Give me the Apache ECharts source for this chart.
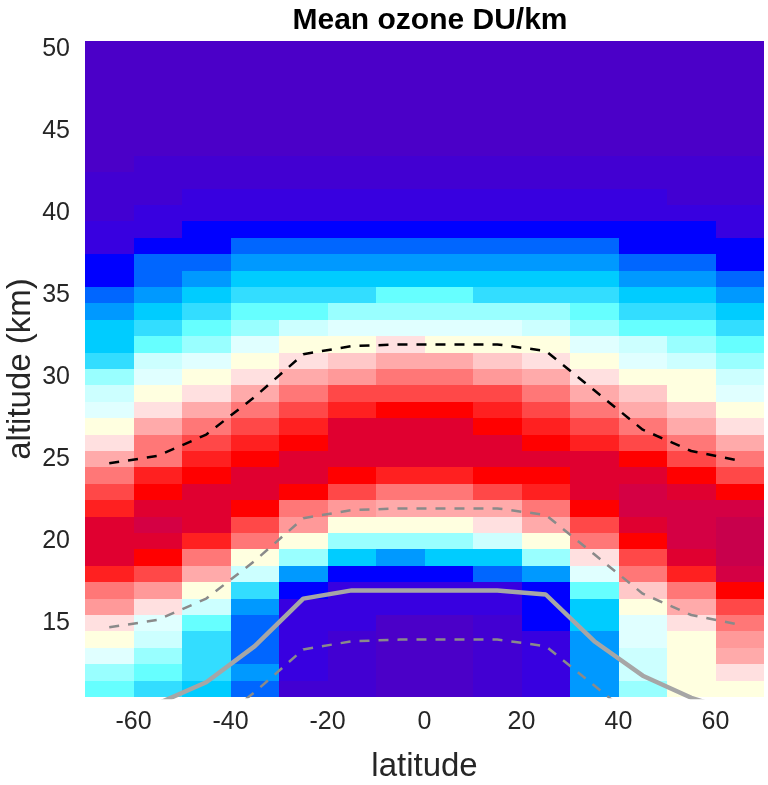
<!DOCTYPE html>
<html>
<head>
<meta charset="utf-8">
<title>Mean ozone DU/km</title>
<script src="https://cdn.jsdelivr.net/npm/echarts@6/dist/echarts.min.js"></script>
<style>
  html, body { margin: 0; padding: 0; background: #fff; }
  #chart { width: 768px; height: 785px; }
</style>
</head>
<body>
<div id="chart"></div>
<script>
// latitude bin centres (deg) and altitude levels (km), top row first
const latitudes = [-65, -55, -45, -35, -25, -15, -5, 5, 15, 25, 35, 45, 55, 65];
const altitudes = [50, 49, 48, 47, 46, 45, 44, 43, 42, 41, 40, 39, 38, 37, 36, 35, 34, 33, 32, 31,
  30, 29, 28, 27, 26, 25, 24, 23, 22, 21, 20, 19, 18, 17, 16, 15, 14, 13, 12, 11];

// mean ozone (DU/km), one row per altitude
const ozone = [
  [0, 0, 0, 0, 0, 0, 0, 0, 0, 0, 0, 0, 0, 0],
  [0, 0, 0, 0, 0, 0, 0, 0, 0, 0, 0, 0, 0, 0],
  [0, 0, 0, 0, 0, 0, 0, 0, 0, 0, 0, 0, 0, 0],
  [0, 0, 0, 0, 0, 0, 0, 0, 0, 0, 0, 0, 0, 0],
  [0, 0, 0, 0, 0, 0, 0, 0, 0, 0, 0, 0, 0, 0],
  [0, 0, 0, 0, 0, 0, 0, 0, 0, 0, 0, 0, 0, 0],
  [0, 0, 0, 0, 0, 0, 0, 0, 0, 0, 0, 0, 0, 0],
  [0, 1, 1, 1, 1, 1, 1, 1, 1, 1, 1, 1, 1, 1],
  [1, 1, 1, 1, 1, 1, 1, 1, 1, 1, 1, 1, 1, 1],
  [1, 1, 2, 2, 2, 2, 2, 2, 2, 2, 2, 2, 1, 1],
  [1, 2, 2, 2, 2, 2, 2, 2, 2, 2, 2, 2, 2, 2],
  [2, 2, 3, 3, 3, 3, 3, 3, 3, 3, 3, 3, 3, 2],
  [2, 3, 3, 4, 4, 4, 4, 4, 4, 4, 4, 3, 3, 3],
  [3, 4, 4, 5, 5, 5, 5, 5, 5, 5, 5, 4, 4, 3],
  [3, 4, 5, 6, 6, 6, 6, 6, 6, 6, 6, 5, 5, 4],
  [4, 5, 6, 7, 7, 7, 8, 8, 7, 7, 7, 6, 6, 5],
  [5, 6, 7, 8, 8, 9, 9, 9, 9, 9, 8, 7, 7, 6],
  [6, 7, 8, 9, 10, 11, 11, 11, 11, 10, 9, 8, 8, 7],
  [6, 8, 9, 11, 12, 12, 13, 12, 12, 12, 11, 10, 9, 8],
  [7, 10, 11, 12, 13, 14, 15, 15, 14, 13, 12, 11, 10, 9],
  [9, 11, 12, 13, 15, 16, 17, 17, 16, 15, 13, 12, 12, 10],
  [10, 12, 13, 15, 17, 18, 18, 18, 18, 17, 15, 14, 12, 11],
  [11, 13, 15, 17, 18, 19, 20, 20, 19, 18, 17, 15, 14, 12],
  [12, 15, 17, 18, 19, 21, 21, 21, 20, 19, 18, 17, 15, 13],
  [13, 17, 18, 19, 20, 21, 21, 21, 21, 20, 19, 18, 17, 15],
  [15, 17, 19, 20, 21, 21, 21, 21, 21, 21, 21, 20, 18, 17],
  [17, 19, 20, 21, 21, 20, 19, 19, 20, 20, 21, 21, 20, 18],
  [18, 20, 21, 21, 20, 18, 17, 17, 18, 19, 21, 22, 21, 20],
  [19, 21, 21, 20, 17, 16, 15, 15, 15, 17, 20, 22, 22, 22],
  [21, 22, 21, 18, 16, 12, 12, 12, 13, 15, 18, 21, 22, 23],
  [21, 21, 19, 17, 12, 9, 9, 9, 10, 12, 17, 20, 22, 23],
  [21, 20, 17, 12, 9, 6, 5, 6, 6, 9, 13, 18, 21, 23],
  [19, 18, 15, 10, 5, 3, 3, 3, 4, 5, 11, 17, 19, 22],
  [17, 16, 12, 7, 3, 2, 2, 2, 2, 3, 8, 14, 17, 20],
  [16, 13, 10, 5, 2, 2, 2, 2, 2, 3, 6, 12, 15, 18],
  [13, 11, 8, 4, 2, 2, 0, 0, 1, 3, 6, 11, 13, 17],
  [12, 10, 7, 4, 2, 1, 0, 0, 1, 2, 5, 11, 12, 16],
  [11, 9, 7, 4, 2, 1, 0, 0, 1, 2, 5, 10, 12, 15],
  [9, 8, 7, 5, 2, 1, 0, 0, 1, 2, 5, 10, 12, 13],
  [8, 7, 6, 4, 1, 1, 0, 0, 1, 2, 5, 9, 12, 12]
];

// colour for each integer DU/km step, low to high
const palette = [
  '#4b00c8', '#4200d2', '#3800e0', '#0000ff', '#0066ff', '#0099ff', '#00ccff', '#33ddff',
  '#66ffff', '#99ffff', '#ccffff', '#e0ffff', '#ffffe0', '#ffe0e0', '#ffc8c8', '#ffaaaa',
  '#ff9999', '#ff7777', '#ff4848', '#ff2020', '#ff0000', '#e00030', '#d40044', '#c8004c'
];

const latTicks = [-60, -40, -20, 0, 20, 40, 60];
const altTicks = [15, 20, 25, 30, 35, 40, 45, 50];

// overlaid profiles (km) at each latitude bin
const profileLat = [-65, -55, -45, -35, -25, -15, -5, 5, 15, 25, 35, 45, 55, 65];
const upperDashed = [24.75, 25.2, 26.5, 28.8, 31.4, 31.9, 32.0, 32.0, 32.0, 31.6, 29.2, 26.8, 25.5, 24.9];
const middleDashed = [14.75, 15.2, 16.5, 18.8, 21.4, 21.9, 22.0, 22.0, 22.0, 21.6, 19.2, 16.8, 15.5, 14.9];
const lowerDashed = [6.75, 7.2, 8.5, 10.8, 13.4, 13.9, 14.0, 14.0, 14.0, 13.6, 11.2, 8.8, 7.5, 6.9];
const tropopause = [9.5, 10.1, 11.4, 13.6, 16.5, 17.0, 17.0, 17.0, 17.0, 16.75, 13.9, 11.8, 10.45, 9.5];

const cells = [];
altitudes.forEach((alt, i) => {
  latitudes.forEach((lat, j) => {
    cells.push([lat, alt, ozone[i][j]]);
  });
});

const pairs = (ys) => profileLat.map((lat, i) => [lat, ys[i]]);

const font = "'Liberation Sans', Arial, Helvetica, sans-serif";
const textColor = '#262626';

const chart = echarts.init(document.getElementById('chart'), null, { renderer: 'canvas' });

chart.setOption({
  animation: false,
  backgroundColor: '#ffffff',
  title: {
    text: 'Mean ozone DU/km',
    left: 425,
    top: 1,
    textAlign: 'center',
    textStyle: { fontFamily: font, fontSize: 30, fontWeight: 'bold', color: '#000' }
  },
  grid: { left: 85, right: 4, top: 41, bottom: 88, outerBoundsMode: 'none', containLabel: false },
  xAxis: {
    type: 'value',
    min: -70,
    max: 70,
    name: 'latitude',
    nameLocation: 'middle',
    nameGap: 53,
    nameMoveOverlap: false,
    nameTextStyle: { fontFamily: font, fontSize: 33, color: textColor },
    axisLine: { show: false },
    axisTick: { show: false },
    splitLine: { show: false },
    axisLabel: {
      customValues: latTicks,
      margin: 13,
      fontFamily: font,
      fontSize: 25,
      color: textColor
    }
  },
  yAxis: {
    type: 'value',
    min: 10.5,
    max: 50.5,
    name: 'altitude (km)',
    nameLocation: 'middle',
    nameGap: 48,
    nameMoveOverlap: false,
    nameTextStyle: { fontFamily: font, fontSize: 33, color: textColor },
    axisLine: { show: false },
    axisTick: { show: false },
    splitLine: { show: false },
    axisLabel: {
      customValues: altTicks,
      margin: 15,
      fontFamily: font,
      fontSize: 25,
      color: textColor
    }
  },
  visualMap: {
    show: false,
    type: 'continuous',
    seriesIndex: 0,
    dimension: 2,
    min: 0,
    max: palette.length - 1,
    inRange: { color: palette }
  },
  series: [
    {
      type: 'custom',
      data: cells,
      silent: true,
      renderItem: (params, api) => {
        const lat = api.value(0);
        const alt = api.value(1);
        const p0 = api.coord([lat - 5, alt + 0.5]);
        const p1 = api.coord([lat + 5, alt - 0.5]);
        const x0 = Math.round(p0[0]), y0 = Math.round(p0[1]);
        const x1 = Math.round(p1[0]), y1 = Math.round(p1[1]);
        return {
          type: 'rect',
          shape: { x: x0, y: y0, width: x1 - x0, height: y1 - y0 },
          style: { fill: api.visual('color') }
        };
      }
    },
    {
      type: 'line',
      data: pairs(upperDashed),
      symbol: 'none',
      silent: true,
      lineStyle: { color: '#000000', width: 2.5, type: [10, 9] }
    },
    {
      type: 'line',
      data: pairs(middleDashed),
      symbol: 'none',
      silent: true,
      lineStyle: { color: '#8a8a8a', width: 2.5, type: [10, 9] }
    },
    {
      type: 'line',
      data: pairs(lowerDashed),
      symbol: 'none',
      silent: true,
      lineStyle: { color: '#8a8a8a', width: 2.5, type: [10, 9] }
    },
    {
      type: 'line',
      data: pairs(tropopause),
      symbol: 'none',
      silent: true,
      lineStyle: { color: '#a6a6a6', width: 4.5 }
    }
  ]
});
</script>
</body>
</html>
